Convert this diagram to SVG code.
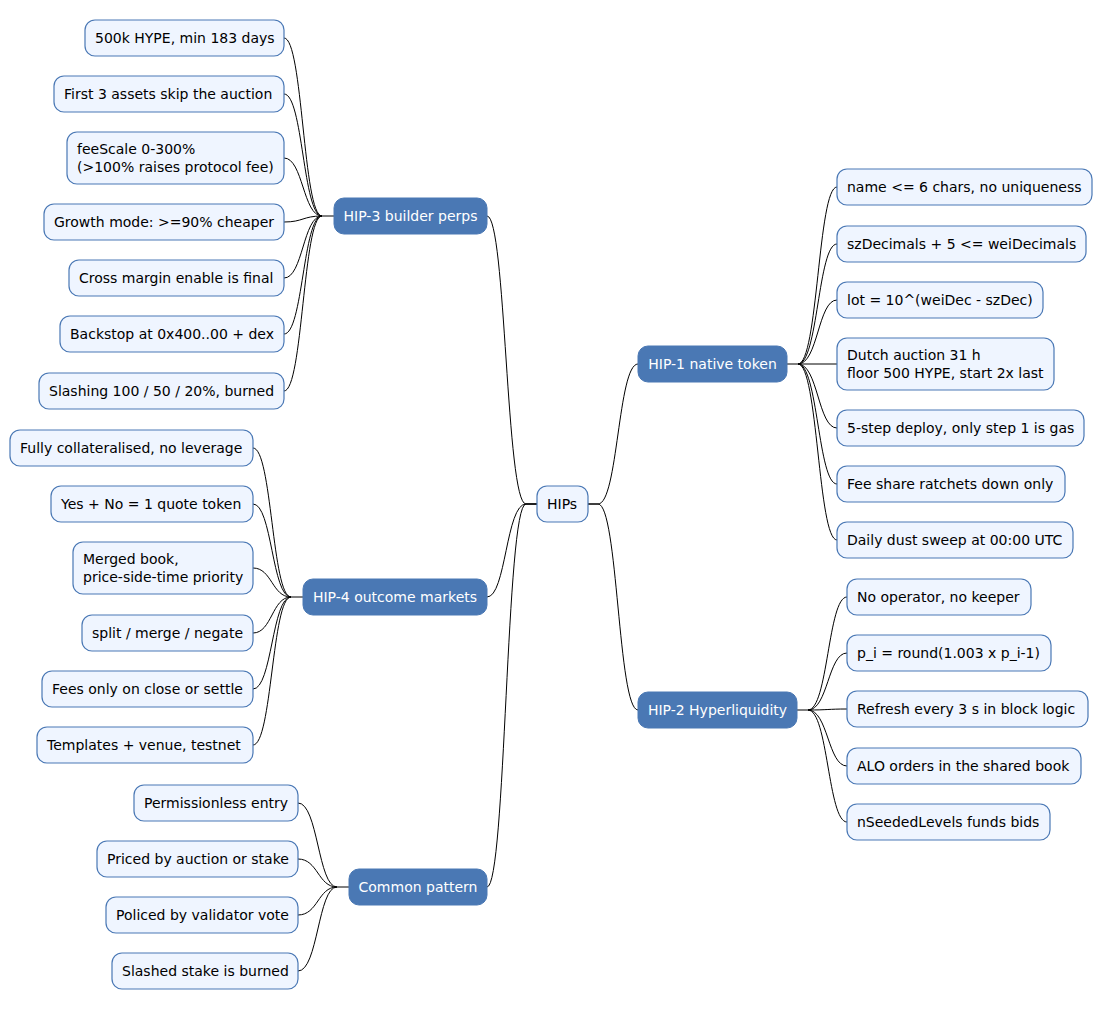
<svg xmlns="http://www.w3.org/2000/svg" width="1103" height="1010" viewBox="0 0 1103 1010">
<style>
.l rect{fill:#EFF5FF;stroke:#4A78B5;stroke-width:1.2}
.h rect{fill:#4A78B4;stroke:#4A78B4;stroke-width:1}
text{font-family:"DejaVu Sans",sans-serif;font-size:14px;fill:#000}
.h text{fill:#fff}
#c path{fill:none;stroke:#000;stroke-width:1}
</style>
<rect width="1103" height="1010" fill="#fff"/>
<g id="c">
<path d="M537,504 H526 C506,504 506,216 487,216"/>
<path d="M537,504 H526 C506,504 506,597 487,597"/>
<path d="M537,504 H526 C506,504 506,887 487,887"/>
<path d="M588,504 H598 C618,504 618,364 638,364"/>
<path d="M588,504 H598 C618,504 618,710 638,710"/>
<path d="M787,364 H798 C818,364 818,187 837,187 M798,364 C818,364 818,244 837,244 M798,364 C818,364 818,300 837,300 M798,364 H837 M798,364 C818,364 818,428 837,428 M798,364 C818,364 818,484 837,484 M798,364 C818,364 818,540 837,540"/>
<path d="M797,710 H808 C828,710 828,597 847,597 M808,710 C828,710 828,653 847,653 M808,710 C828,710 828,709 847,709 M808,710 C828,710 828,766 847,766 M808,710 C828,710 828,822 847,822"/>
<path d="M334,216 H322 C303,216 303,38 284,38 M322,216 C303,216 303,94 284,94 M322,216 C303,216 303,158 284,158 M322,216 C303,216 303,222 284,222 M322,216 C303,216 303,278 284,278 M322,216 C303,216 303,334 284,334 M322,216 C303,216 303,391 284,391"/>
<path d="M303,597 H291 C272,597 272,448 253,448 M291,597 C272,597 272,504 253,504 M291,597 C272,597 272,568 253,568 M291,597 C272,597 272,633 253,633 M291,597 C272,597 272,689 253,689 M291,597 C272,597 272,745 253,745"/>
<path d="M349,887 H337 C318,887 318,803 298,803 M337,887 C318,887 318,859 298,859 M337,887 C318,887 318,915 298,915 M337,887 C318,887 318,971 298,971"/>
</g>
<g id="root" class="l"><rect x="537" y="486" width="51" height="36" rx="10"/><text x="547" y="509">HIPs</text></g>
<g id="hip1" class="h"><rect x="638" y="346" width="149" height="36" rx="10"/><text x="712.5" y="369" text-anchor="middle">HIP-1 native token</text></g>
<g id="hip2" class="h"><rect x="638" y="692" width="159" height="36" rx="10"/><text x="717.5" y="715" text-anchor="middle">HIP-2 Hyperliquidity</text></g>
<g id="hip3" class="h"><rect x="334" y="198" width="153" height="36" rx="10"/><text x="410.5" y="221" text-anchor="middle">HIP-3 builder perps</text></g>
<g id="hip4" class="h"><rect x="303" y="579" width="184" height="36" rx="10"/><text x="395" y="602" text-anchor="middle">HIP-4 outcome markets</text></g>
<g id="common" class="h"><rect x="349" y="869" width="138" height="36" rx="10"/><text x="418" y="892" text-anchor="middle">Common pattern</text></g>
<g id="n1a" class="l"><rect x="837" y="169" width="255" height="36" rx="10"/><text x="847" y="192">name &lt;= 6 chars, no uniqueness</text></g>
<g id="n1b" class="l"><rect x="837" y="226" width="249" height="36" rx="10"/><text x="847" y="249">szDecimals + 5 &lt;= weiDecimals</text></g>
<g id="n1c" class="l"><rect x="837" y="282" width="206" height="36" rx="10"/><text x="847" y="305">lot = 10^(weiDec - szDec)</text></g>
<g id="n1d" class="l"><rect x="837" y="338" width="217" height="52" rx="10"/><text x="847" y="360">Dutch auction 31 h</text><text x="847" y="378">floor 500 HYPE, start 2x last</text></g>
<g id="n1e" class="l"><rect x="837" y="410" width="247" height="36" rx="10"/><text x="847" y="433">5-step deploy, only step 1 is gas</text></g>
<g id="n1f" class="l"><rect x="837" y="466" width="228" height="36" rx="10"/><text x="847" y="489">Fee share ratchets down only</text></g>
<g id="n1g" class="l"><rect x="837" y="522" width="236" height="36" rx="10"/><text x="847" y="545">Daily dust sweep at 00:00 UTC</text></g>
<g id="n2a" class="l"><rect x="847" y="579" width="184" height="36" rx="10"/><text x="857" y="602">No operator, no keeper</text></g>
<g id="n2b" class="l"><rect x="847" y="635" width="204" height="36" rx="10"/><text x="857" y="658">p_i = round(1.003 x p_i-1)</text></g>
<g id="n2c" class="l"><rect x="847" y="691" width="241" height="36" rx="10"/><text x="857" y="714">Refresh every 3 s in block logic</text></g>
<g id="n2d" class="l"><rect x="847" y="748" width="234" height="36" rx="10"/><text x="857" y="771">ALO orders in the shared book</text></g>
<g id="n2e" class="l"><rect x="847" y="804" width="203" height="36" rx="10"/><text x="857" y="827">nSeededLevels funds bids</text></g>
<g id="n3a" class="l"><rect x="85" y="20" width="199" height="36" rx="10"/><text x="95" y="43">500k HYPE, min 183 days</text></g>
<g id="n3b" class="l"><rect x="54" y="76" width="230" height="36" rx="10"/><text x="64" y="99">First 3 assets skip the auction</text></g>
<g id="n3c" class="l"><rect x="67" y="132" width="217" height="52" rx="10"/><text x="77" y="154">feeScale 0-300%</text><text x="77" y="172">(&gt;100% raises protocol fee)</text></g>
<g id="n3d" class="l"><rect x="44" y="204" width="240" height="36" rx="10"/><text x="54" y="227">Growth mode: &gt;=90% cheaper</text></g>
<g id="n3e" class="l"><rect x="69" y="260" width="215" height="36" rx="10"/><text x="79" y="283">Cross margin enable is final</text></g>
<g id="n3f" class="l"><rect x="60" y="316" width="224" height="36" rx="10"/><text x="70" y="339">Backstop at 0x400..00 + dex</text></g>
<g id="n3g" class="l"><rect x="39" y="373" width="245" height="36" rx="10"/><text x="49" y="396">Slashing 100 / 50 / 20%, burned</text></g>
<g id="n4a" class="l"><rect x="10" y="430" width="243" height="36" rx="10"/><text x="20" y="453">Fully collateralised, no leverage</text></g>
<g id="n4b" class="l"><rect x="51" y="486" width="202" height="36" rx="10"/><text x="61" y="509">Yes + No = 1 quote token</text></g>
<g id="n4c" class="l"><rect x="73" y="542" width="180" height="52" rx="10"/><text x="83" y="564">Merged book,</text><text x="83" y="582">price-side-time priority</text></g>
<g id="n4d" class="l"><rect x="82" y="615" width="171" height="36" rx="10"/><text x="92" y="638">split / merge / negate</text></g>
<g id="n4e" class="l"><rect x="42" y="671" width="211" height="36" rx="10"/><text x="52" y="694">Fees only on close or settle</text></g>
<g id="n4f" class="l"><rect x="37" y="727" width="216" height="36" rx="10"/><text x="47" y="750">Templates + venue, testnet</text></g>
<g id="n5a" class="l"><rect x="134" y="785" width="164" height="36" rx="10"/><text x="144" y="808">Permissionless entry</text></g>
<g id="n5b" class="l"><rect x="97" y="841" width="201" height="36" rx="10"/><text x="107" y="864">Priced by auction or stake</text></g>
<g id="n5c" class="l"><rect x="106" y="897" width="192" height="36" rx="10"/><text x="116" y="920">Policed by validator vote</text></g>
<g id="n5d" class="l"><rect x="112" y="953" width="186" height="36" rx="10"/><text x="122" y="976">Slashed stake is burned</text></g>
</svg>
